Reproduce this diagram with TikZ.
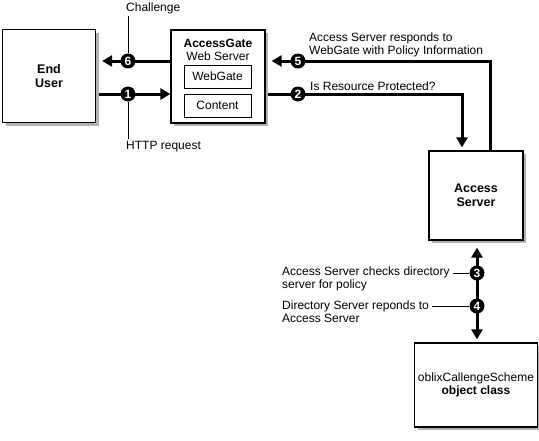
\documentclass[tikz,border=0pt]{standalone}
\usepackage{fontspec}
\setmainfont{Liberation Sans}
\usetikzlibrary{arrows.meta,backgrounds,positioning,shadows}

\begin{document}
\begin{tikzpicture}[x=1pt, y=-1pt, font=\fontsize{12}{13}\selectfont,
  box/.style={draw, line width=1.2pt, fill=white, align=center, drop shadow={shadow xshift=3pt, shadow yshift=-3pt, fill=black!30, opacity=1}},
  inbox/.style={draw, line width=1pt, minimum width=67pt, minimum height=23pt},
  num/.style={circle, fill=black, text=white, inner sep=0pt, minimum size=15pt, font=\fontsize{12}{12}\selectfont\bfseries},
  flow/.style={line width=3pt, -{Triangle[length=10pt,width=11pt]}},
  lbl/.style={align=left, inner xsep=0pt, inner ysep=2pt},
  tick/.style={line width=0.8pt}]
\useasboundingbox (0,0) rectangle (539,440);

% boxes
\node[box, minimum width=93pt, minimum height=93pt, font=\fontsize{12.5}{14}\selectfont\bfseries] (user) at (49,76) {End\\User};
\node[box, minimum width=94pt, minimum height=93pt] (gate) at (218,76.5) {};
\node[align=center] (title) at (218,50) {\textbf{AccessGate}\\Web Server};
\node[inbox] (webgate) at (217.5,76.5) {WebGate};
\node[inbox] (content) at (217.5,105.5) {Content};
\node[box, minimum width=94pt, minimum height=89pt, font=\fontsize{12.5}{14}\selectfont\bfseries] (access) at (476,195.5) {Access\\Server};
\node[box, minimum width=118pt, minimum height=84pt] (ldap) at (476,385) {oblixCallengeScheme\\\textbf{object class}};

% steps
\node[num] (n6) at (128,61) {6};
\node[num] (n1) at (128,94) {1};
\node[num] (n5) at (298,61) {5};
\node[num] (n2) at (298,94) {2};
\node[num] (n3) at (477,273) {3};
\node[num] (n4) at (477,306) {4};

% labels
\node[lbl, anchor=west] (chal) at (126,8) {Challenge};
\node[lbl, anchor=west] (http) at (126,147) {HTTP request};
\node[lbl, anchor=west] (resp) at (309,44.5) {Access Server responds to\\WebGate with Policy Information};
\node[lbl, anchor=west] (prot) at (310,86) {Is Resource Protected?};
\node[lbl, anchor=west] (check) at (282,279) {Access Server checks directory\\server for policy};
\node[lbl, anchor=west] (dirsrv) at (282,311.5) {Directory Server reponds to\\Access Server};

\begin{scope}[on background layer]
\draw[flow, shorten >=6pt] (gate.west |- n6) -- (user.east |- n6);
\draw[flow] (user.east |- n1) -- (gate.west |- n1);
\draw[flow, shorten >=3pt] (gate.east |- n2) -| ([xshift=-14pt]access.north);
\draw[flow, shorten >=6pt] ([xshift=14pt]access.north) |- (gate.east |- n5);
\draw[line width=3pt, {Triangle[length=10pt,width=11pt]}-{Triangle[length=10pt,width=11pt]}, shorten <=7pt, shorten >=3pt] (access.south -| n3) -- (ldap.north -| n3);
\draw[tick] (n6) -- (n6 |- chal.south);
\draw[tick] (n1) -- (n1 |- http.north);
\draw[tick] (n3) -- ([xshift=3pt]check.east |- n3);
\draw[tick] (n4) -- ([xshift=3pt]dirsrv.east |- n4);
\end{scope}
\end{tikzpicture}
\end{document}
